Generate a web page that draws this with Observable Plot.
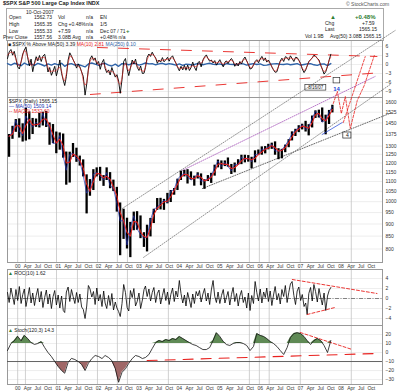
<!DOCTYPE html>
<html><head><meta charset="utf-8">
<script src="https://cdn.jsdelivr.net/npm/d3@7"></script>
<script src="https://cdn.jsdelivr.net/npm/@observablehq/plot@0.6"></script>
<style>
body{margin:0;background:#fff;}
#wrap{position:relative;width:400px;height:392px;overflow:hidden;font-family:"Liberation Sans",Arial,sans-serif;color:#222;background:#fff;}
.t{position:absolute;font-size:5px;white-space:nowrap;line-height:1;}
</style></head><body>
<div id="wrap">
  <div class="t" style="left:3px;top:1px;font-size:5.5px;font-weight:bold">$SPX S&amp;P 500 Large Cap Index INDX</div>
  <div class="t" style="left:346px;top:2px;color:#555">© StockCharts.com</div>
  <div style="position:absolute;left:6px;top:8px;width:376px;height:32px;border:1px solid #aaa;border-bottom:none"></div>
  <div class="t" style="left:26px;top:10px">10-Oct-2007</div>
  <div class="t" style="left:9px;top:15px">Open</div><div class="t" style="left:34px;top:15px">1562.73</div><div class="t" style="left:58px;top:15px">Vol</div><div class="t" style="left:86px;top:15px">n/a</div><div class="t" style="left:100px;top:15px">EN</div>
  <div class="t" style="left:9px;top:22px">High</div><div class="t" style="left:34px;top:22px">1565.35</div><div class="t" style="left:58px;top:22px">Chg +0.48%</div><div class="t" style="left:86px;top:22px">n/a</div><div class="t" style="left:100px;top:22px">1/5</div>
  <div class="t" style="left:9px;top:29px">Low</div><div class="t" style="left:34px;top:29px">1555.33</div><div class="t" style="left:58px;top:29px">+7.59</div><div class="t" style="left:86px;top:29px">n/a</div><div class="t" style="left:100px;top:29px">Dec 07 / 71</div><div class="t" style="left:126px;top:28px;color:#2e7d32;font-weight:bold;font-size:6px">+</div>
  <div class="t" style="left:3px;top:35px">Prev Close</div><div class="t" style="left:34px;top:35px">1557.56</div><div class="t" style="left:58px;top:35px">3.08B Avg</div><div class="t" style="left:86px;top:35px">n/a</div><div class="t" style="left:100px;top:35px">+0.48% n/a</div>
  <div class="t" style="left:330px;top:14px;color:#2e7d32;font-size:6px">▲</div>
  <div class="t" style="left:355px;top:14px;color:#2e7d32;font-size:6px;font-weight:bold">+0.48%</div>
  <div class="t" style="left:325px;top:21px">Chg</div><div class="t" style="left:362px;top:21px">+7.59</div>
  <div class="t" style="left:325px;top:27px">Last</div><div class="t" style="left:359px;top:27px">1565.15</div>
  <div class="t" style="left:305px;top:34px">Vol 1.9B</div><div class="t" style="left:330px;top:34px">Avg(50) 3.08B 1565.15</div>
</div>
<script>
// ---------- DATA ----------
// monthly S&P 500 bars, Oct 1999 .. Oct 2007
const priceHigh = [1373,1427,1473,
 1478,1444,1553,1527,1481,1477,1517,1525,1530,1450,1439,1389,
 1383,1376,1264,1263,1316,1287,1240,1218,1135,1110,1163,1173,
 1176,1131,1173,1147,1107,1070,994,965,925,907,952,954,
 935,864,895,924,965,1015,1016,1011,1040,1054,1064,1112,
 1155,1159,1163,1151,1128,1146,1140,1109,1131,1143,1188,1217,
 1212,1212,1229,1192,1200,1219,1245,1245,1243,1233,1271,1276,
 1295,1297,1311,1318,1326,1284,1280,1306,1340,1390,1407,1431,
 1441,1461,1438,1498,1535,1540,1556,1504,1538,1576];
const priceLow = [1233,1342,1387,
 1350,1325,1331,1339,1373,1420,1416,1429,1419,1305,1316,1254,
 1275,1228,1081,1092,1232,1204,1183,1124,944,1026,1054,1124,
 1101,1075,1105,1063,1049,952,775,837,800,768,872,874,
 840,806,789,847,902,960,962,960,990,996,1031,1054,
 1105,1124,1087,1107,1076,1113,1078,1060,1100,1090,1128,1173,
 1163,1180,1177,1137,1146,1188,1191,1201,1205,1168,1201,1246,
 1245,1253,1277,1280,1245,1219,1224,1260,1290,1332,1360,1385,
 1403,1389,1364,1416,1481,1484,1454,1371,1439,1520];
const priceClose = [1362,1389,1469,
 1394,1366,1499,1452,1421,1455,1431,1518,1437,1429,1315,1320,
 1366,1240,1160,1249,1256,1224,1211,1134,1041,1060,1139,1148,
 1130,1107,1147,1077,1067,990,912,916,815,886,936,880,
 856,841,848,917,964,975,990,1008,996,1051,1058,1112,
 1131,1145,1126,1107,1121,1141,1102,1104,1115,1130,1174,1212,
 1181,1204,1181,1157,1192,1191,1234,1220,1229,1207,1249,1248,
 1280,1281,1295,1311,1270,1270,1277,1304,1336,1378,1401,1418,
 1438,1407,1421,1482,1531,1503,1455,1474,1527,1565];

// top panel: % above moving average (half-monthly)
const pctAboveMA = [
 2.0,4.2,5.0,3.1,4.4,2.0,-0.8,-1.5,0.9,3.5,
 4.8,5.8,2.2,-0.5,1.8,-2.4,0.5,2.6,1.2,3.0,
 1.0,2.8,3.4,0.8,-2.5,-1.0,-3.6,-2.2,-0.6,-3.8,
 -1.4,1.5,-3.0,-5.2,-7.0,-4.0,1.5,3.9,2.8,1.6,
 0.4,-1.2,0.2,-0.8,-2.5,-4.0,-10.2,-6.5,-1.5,1.8,
 2.9,1.4,2.2,0.1,1.0,-1.6,0.6,1.7,-1.3,-2.7,
 -1.8,-3.5,-1.0,-2.6,-4.2,-3.4,-5.5,-9.6,-5.0,1.0,
 2.0,-1.5,-3.7,-1.2,1.5,0.2,1.8,-0.9,-2.0,-0.5,
 -3.0,-2.9,-1.0,2.4,3.5,2.7,4.1,3.0,2.2,0.4,
 1.5,0.8,2.3,0.9,1.6,2.4,1.1,2.3,2.9,1.5,
 0.5,-0.9,-2.1,-0.6,-1.8,-0.3,-1.9,-0.2,-2.0,-1.0,
 0.8,-0.9,-2.0,0.6,1.0,-0.8,1.5,2.5,3.2,2.0,
 1.1,1.5,0.5,1.3,-0.2,0.7,1.6,0.4,-0.8,0.8,
 1.2,0.3,1.4,2.0,1.1,-0.6,0.5,-0.5,1.0,0.2,
 1.7,2.5,1.2,0.0,-1.5,-1.3,-0.2,1.0,1.6,0.6,
 1.8,2.7,1.3,2.2,0.8,1.5,0.4,-0.8,-1.8,-2.6,
 -2.4,-0.5,1.2,2.1,1.0,2.6,2.3,1.4,2.9,2.0,
 1.0,2.4,2.3,1.4,0.3,-1.5,-2.7,-1.8,-0.5,1.0,
 1.6,2.2,3.1,2.8,2.0,1.5,-0.2,-1.5,-3.2,-2.4,
 -0.6,1.5,3.4];
// top panel blue line (monthly)
const maLine = [0.3,-0.2,0.4,0.1,-0.4,0.5,-0.1,0.2,-0.3,0.4,
 0.0,-0.5,0.2,-0.2,0.3,-0.1,0.4,-0.6,0.1,0.3,
 -0.2,0.0,-0.4,-0.8,0.2,0.5,0.1,-0.3,0.2,0.4,
 -0.2,-0.5,0.1,-0.6,0.3,0.2,-0.1,0.4,0.3,-0.2,
 0.1,0.5,0.2,0.3,-0.1,0.2,0.4,0.0,0.3,0.1,
 -0.2,0.2,-0.3,0.1,0.0,-0.2,0.2,0.3,-0.1,0.2,
 0.4,0.1,0.0,0.2,-0.2,0.3,0.1,0.0,-0.1,0.3,
 0.2,-0.2,0.1,0.3,0.0,0.2,-0.3,-0.2,0.1,0.2,
 0.3,0.1,0.0,0.2,-0.1,0.1,0.3,-0.2,0.0,0.2,
 0.3,-0.1,-0.3,0.1,0.2,-0.4,0.3];
// middle panel: ROC (half-monthly)
const roc = [
 1.2,-0.8,2.1,0.5,-1.2,1.8,-0.4,2.4,-1.0,0.8,
 1.9,-1.6,0.3,2.2,-0.9,1.1,-1.4,0.6,2.0,-0.7,
 1.4,-1.8,0.2,1.7,-1.1,0.9,-2.0,0.4,1.6,-1.3,
 0.7,-1.9,0.5,-2.4,-2.8,1.3,2.3,-0.6,1.8,0.4,
 -1.0,1.2,-0.8,0.9,-1.7,-2.2,-4.0,-1.5,2.6,1.9,
 0.3,1.4,-1.2,2.1,-0.5,0.8,-1.6,1.5,-0.9,-2.0,
 0.6,-1.4,1.0,-2.3,-0.7,-1.9,-2.6,-3.6,-1.0,2.8,
 1.2,-1.8,-2.5,1.6,0.2,2.0,-1.5,-0.6,1.1,-2.0,
 -0.3,1.8,2.5,0.4,1.9,-0.5,1.2,2.2,-0.8,1.0,
 1.7,-1.1,0.6,2.0,-0.4,1.3,-1.2,0.8,2.1,-0.6,
 1.5,0.3,3.6,1.0,-0.9,0.7,-1.5,1.2,-0.3,-1.8,
 0.9,-1.0,1.4,0.5,1.6,-0.7,0.9,2.0,-0.5,1.1,
 -1.2,1.7,3.6,0.4,-0.8,1.3,-1.0,0.6,1.8,-0.9,
 0.2,1.4,-1.3,0.8,2.2,-0.6,1.0,-1.5,0.5,1.6,
 -0.8,0.3,-1.9,1.1,-2.4,0.6,-1.0,3.4,1.2,-0.5,
 1.9,-0.9,1.3,0.2,2.1,-0.6,1.5,-1.4,0.7,2.4,
 -0.3,1.0,-1.1,1.8,0.4,2.6,-0.8,1.2,2.9,3.4,
 0.6,-1.2,1.5,2.3,-0.4,0.8,-1.6,-0.9,-3.2,1.0,
 2.2,-0.5,2.8,1.4,-0.7,2.0,0.3,-1.3,1.1,-2.4,
 0.5,1.6,2.2];
// bottom panel: oscillator (monthly)
const osc = [2.2,10,13,18,13,19,15.5,11,9,10,
 12,5.5,0,-4.5,-10,-15.5,-20,-23,-11,-6.5,
 -7.8,-10,-13.3,-20,-12,-6.7,-3.3,-4.4,-6.7,-3.3,
 -5.5,-9,-17.8,-33,-22,-18,-12,-6.7,-3.3,-4.4,
 -6.7,-5.5,-2.2,4.4,11,13.3,12.2,14.4,13.3,15.5,
 14.4,17.8,15.5,13.3,11,8.9,7.8,5.5,3.3,3.3,
 5.5,13.3,22,17.8,12.2,8.9,7.8,10,11,11,
 10,7.8,2.2,6.7,21,19,17.8,15.5,12.2,10,
 6.7,2.2,-2.2,5.5,16.7,21,22,21,17.8,13.3,
 8.9,13.3,15.5,13.3,7.8,0,13.3];

// tick values / labels
const priceTicks = [800,850,900,950,1000,1050,1100,1150,1200,1250,1300,1375,1450,1525,1600];
const topTicks = [6,3,0,-3,-6,-9];
const rocTicks = [4,2,0,-2,-4];
const oscTicks = [20,10,0,-10,-20,-30];
const xTickDates = ["2000-01-01","2000-04-01","2000-07-01","2000-10-01","2001-01-01","2001-04-01","2001-07-01","2001-10-01",
 "2002-01-01","2002-04-01","2002-07-01","2002-10-01","2003-01-01","2003-04-01","2003-07-01","2003-10-01",
 "2004-01-01","2004-04-01","2004-07-01","2004-10-01","2005-01-01","2005-04-01","2005-07-01","2005-10-01",
 "2006-01-01","2006-04-01","2006-07-01","2006-10-01","2007-01-01","2007-04-01","2007-07-01","2007-10-01",
 "2008-01-01","2008-04-01","2008-07-01","2008-10-01"];
const xTickLabels = ["00","Apr","Jul","Oct","01","Apr","Jul","Oct","02","Apr","Jul","Oct","03","Apr","Jul","Oct",
 "04","Apr","Jul","Oct","05","Apr","Jul","Oct","06","Apr","Jul","Oct","07","Apr","Jul","Oct","08","Apr","Jul","Oct"];
const vGridDates = ["2000-01-01","2000-03-11","2000-12-17","2001-06-24","2001-12-22","2002-06-20","2002-09-19",
 "2003-09-24","2005-09-25","2005-12-24","2006-03-23","2006-12-29","2008-04-03"];

// annotation lines (date, value)
const channelUpper = [["2002-08-05",969],["2009-05-04",2242]];
const channelLowerSteep = [["2003-02-12",769],["2009-03-20",1738]];
const channelLowerFlat = [["2004-07-27",1064],["2009-04-07",1523]];
const purpleLine = [["2004-01-29",1159],["2008-11-04",1805]];
const projection1 = [["2007-10-23",1589],["2007-11-29",1682],["2008-01-04",1516],["2008-02-09",1642],["2008-03-25",1412],["2008-05-27",1612],["2008-07-29",1730],["2008-10-28",1993]];
const projection2 = [["2008-01-22",1453],["2008-08-07",1983]];
const blueSeg = [["2007-07-15",1373],["2008-01-13",1453]];
const topUpper = [["2001-12-22",5.67],["2008-11-21",2.67]];
const topLower = [["2001-10-19",-10],["2009-01-09",-2.67]];
const rocUpper = [["2006-10-18",3.8],["2008-11-21",1.0]];
const rocLower = [["2007-03-01",-3.2],["2007-11-07",-1.8]];
const oscDown = [["2006-12-29",22.2],["2008-04-12",3.3]];
const oscLevel = [["2003-03-16",-8.9],["2008-11-07",-1.1]];

// ---------- BUILD ----------
const D = s => new Date(s);
const pts = a => a.map(([d, v]) => ({date: D(d), v}));
const monthDate = (i, day) => new Date(Date.UTC(1999, 9 + i, day));
const halfDate = i => new Date(Date.UTC(1999, 9 + Math.floor(i / 2), i % 2 ? 16 : 1));

const priceData = priceHigh.map((h, i) => ({date: monthDate(i, 15), high: h, low: priceLow[i], close: priceClose[i]}));
const p1Data = pctAboveMA.map((v, i) => ({date: halfDate(i), v}));
const blueData = maLine.map((v, i) => ({date: monthDate(i, 1), v}));
const rocData = roc.map((v, i) => ({date: halfDate(i), v}));
const oscData = osc.map((v, i) => ({date: monthDate(i, 1), v}));
const grid = vGridDates.map(D);

const labelMap = new Map(xTickDates.map((d, i) => [+D(d), xTickLabels[i]]));
const xDomain = [D("1999-10-01"), D("2009-01-10")];
const xNoAxis = {type: "utc", domain: xDomain, axis: null};
const xAxis = {type: "utc", domain: xDomain, ticks: xTickDates.map(D), tickFormat: d => labelMap.get(+d) ?? "", tickSize: 0, tickPadding: 1.5, label: null};

const wrap = document.getElementById("wrap");
const baseStyle = {background: "transparent", overflow: "visible", fontSize: "5px", fontFamily: "'Liberation Sans', Arial, sans-serif", color: "#333"};
function addPanel(top, height, opts) {
  const svg = Plot.plot({width: 400, height, marginLeft: 7, marginRight: 18, marginTop: 0, marginBottom: 0, style: baseStyle, ...opts});
  svg.style.position = "absolute"; svg.style.left = "0px"; svg.style.top = top + "px";
  wrap.appendChild(svg);
}
const vgrid = () => Plot.ruleX(grid, {stroke: "#c4c4c4", strokeWidth: 0.8});
const yAx = (domain, ticks, extra = {}) => ({domain, axis: "right", ticks, tickSize: 0, tickPadding: 3, label: null, ...extra});
const red = "#e8211e";
const dotted = {stroke: "#444", strokeWidth: 0.6, strokeDasharray: "1,1.5"};

// Panel 1
addPanel(40, 57, {
  x: xNoAxis,
  y: yAx([-11, 8], topTicks),
  marks: [
    Plot.ruleY(topTicks, {stroke: "#e2e2e2", strokeWidth: 0.6}),
    vgrid(),
    Plot.frame({stroke: "#999"}),
    Plot.line(pts(topUpper), {x: "date", y: "v", stroke: red, strokeWidth: 1, strokeDasharray: "10,11", strokeOpacity: 0.9}),
    Plot.line(pts(topLower), {x: "date", y: "v", stroke: red, strokeWidth: 1, strokeDasharray: "10,11", strokeOpacity: 0.9}),
    Plot.line(blueData, {x: "date", y: "v", stroke: "#2f63a8", strokeWidth: 1.4}),
    Plot.line(p1Data, {x: "date", y: "v", stroke: "#000", strokeWidth: 0.9}),
    Plot.lineY(p1Data, Plot.windowY({k: 3}, {x: "date", y: "v", stroke: red, strokeWidth: 0.6})),
    Plot.rect([{x1: D("2007-02-13"), x2: D("2007-08-21"), y1: -6.8, y2: -8.7}], {x1: "x1", x2: "x2", y1: "y1", y2: "y2", fill: "white", stroke: "#333", strokeWidth: 0.7}),
    Plot.text([{date: D("2007-05-18"), v: -7.75, t: "8/16/07"}], {x: "date", y: "v", text: "t", fontSize: 4.5, fill: "#111"}),
    Plot.rect([{x1: D("2007-10-26"), x2: D("2007-12-25"), y1: -4.5, y2: -6.3}], {x1: "x1", x2: "x2", y1: "y1", y2: "y2", fill: "white", stroke: "#333", strokeWidth: 0.7}),
    Plot.text([{date: D("2007-11-22"), v: -8.3, t: "14"}], {x: "date", y: "v", text: "t", fontSize: 6, fontWeight: "bold", fill: "#1a3fd6"})
  ]
});

// Panel 3 (ROC)
addPanel(269, 56, {
  x: xNoAxis,
  y: yAx([-5.4, 5.8], rocTicks),
  marks: [
    Plot.ruleY(rocTicks, {stroke: "#e2e2e2", strokeWidth: 0.6}),
    vgrid(),
    Plot.frame({stroke: "#999"}),
    Plot.ruleY([0], {stroke: "#666", strokeWidth: 0.8, strokeDasharray: "4,1.5,1,1.5"}),
    Plot.line(rocData, {x: "date", y: "v", stroke: "#000", strokeWidth: 0.8}),
    Plot.line(pts(rocUpper), {x: "date", y: "v", stroke: red, strokeWidth: 0.9, strokeDasharray: "3,2"}),
    Plot.line(pts(rocLower), {x: "date", y: "v", stroke: red, strokeWidth: 0.9, strokeDasharray: "3,2"})
  ]
});

// Panel 4 (oscillator)
addPanel(325, 67, {
  marginBottom: 8,
  x: xAxis,
  y: yAx([-35.5, 30], oscTicks),
  marks: [
    Plot.ruleY(oscTicks, {stroke: "#e2e2e2", strokeWidth: 0.6}),
    vgrid(),
    Plot.frame({stroke: "#999"}),
    Plot.areaY(oscData, {x: "date", y1: () => 10, y2: d => Math.max(d.v, 10), fill: "#5f8a55"}),
    Plot.areaY(oscData, {x: "date", y1: () => -10, y2: d => Math.min(d.v, -10), fill: "#a06868"}),
    Plot.ruleY([-10], {stroke: "#555", strokeWidth: 0.9}),
    Plot.line(pts(oscLevel), {x: "date", y: "v", stroke: red, strokeWidth: 1.1, strokeDasharray: "10,8"}),
    Plot.line(pts(oscDown), {x: "date", y: "v", stroke: red, strokeWidth: 0.9, strokeDasharray: "3,2"}),
    Plot.line(oscData, {x: "date", y: "v", stroke: "#111", strokeWidth: 0.8})
  ]
});

// Price panel (on top so channel lines can run over the upper panels)
addPanel(97, 172, {
  marginBottom: 7,
  x: xAxis,
  y: yAx([750.6, 1634.7], priceTicks, {type: "log", tickFormat: d3.format("d")}),
  marks: [
    Plot.ruleY(priceTicks, {stroke: "#e0e0e0", strokeWidth: 0.6}),
    vgrid(),
    Plot.frame({stroke: "#999"}),
    Plot.line(pts(channelUpper), {x: "date", y: "v", ...dotted}),
    Plot.line(pts(channelLowerSteep), {x: "date", y: "v", ...dotted}),
    Plot.line(pts(channelLowerFlat), {x: "date", y: "v", ...dotted, strokeWidth: 0.8}),
    Plot.line(pts(purpleLine), {x: "date", y: "v", stroke: "#9b3fb0", strokeWidth: 0.7, strokeDasharray: "1,1.3"}),
    Plot.ruleX(priceData, {x: "date", y1: "low", y2: "high", stroke: "#000", strokeWidth: 2.3}),
    Plot.line(priceData, {x: "date", y: "close", stroke: "#2233b0", strokeWidth: 0.7}),
    Plot.lineY(priceData, Plot.windowY({k: 2, anchor: "end"}, {x: "date", y: "close", stroke: red, strokeWidth: 1.1, strokeDasharray: "2,1"})),
    Plot.line(pts(blueSeg), {x: "date", y: "v", stroke: "#1a3fd6", strokeWidth: 0.7}),
    Plot.line(pts(projection1), {x: "date", y: "v", stroke: red, strokeWidth: 0.8, strokeDasharray: "2.5,1.5"}),
    Plot.line(pts(projection2), {x: "date", y: "v", stroke: red, strokeWidth: 0.8, strokeDasharray: "2.5,1.5"}),
    Plot.rect([{x1: D("2008-01-22"), x2: D("2008-04-04"), y1: 1347, y2: 1386}], {x1: "x1", x2: "x2", y1: "y1", y2: "y2", fill: "white", stroke: "#222", strokeWidth: 0.7}),
    Plot.text([{date: D("2008-02-28"), v: 1366, t: "4"}], {x: "date", y: "v", text: "t", fontSize: 5, fill: "#111"})
  ]
});

// Legends (on top)
const legends = [
  {left: 8, top: 42, html: '<span>■ $SPX % Above MA(50) 3.39</span> <span style="color:#e8211e">MA(10) 2.81</span> <span style="color:#2f63a8">MA(250) 0.10</span>'},
  {left: 9, top: 99, html: '$SPX (Daily) 1565.15'},
  {left: 9, top: 104, html: '<span style="color:#2233b0">— MA(50) 1509.14</span>'},
  {left: 9, top: 109, html: '<span style="color:#e8211e">-- MA(20) 1532.60</span>'},
  {left: 8, top: 271, html: '<span style="color:#2e7d32">▲</span> ROC(10) 1.62'},
  {left: 8, top: 328, html: '<span style="color:#2e7d32">▲</span> Stoch(120,3) 14.3'}
];
for (const l of legends) {
  const el = document.createElement("div");
  el.className = "t"; el.style.left = l.left + "px"; el.style.top = l.top + "px";
  el.innerHTML = l.html; wrap.appendChild(el);
}
</script>
</body></html>
